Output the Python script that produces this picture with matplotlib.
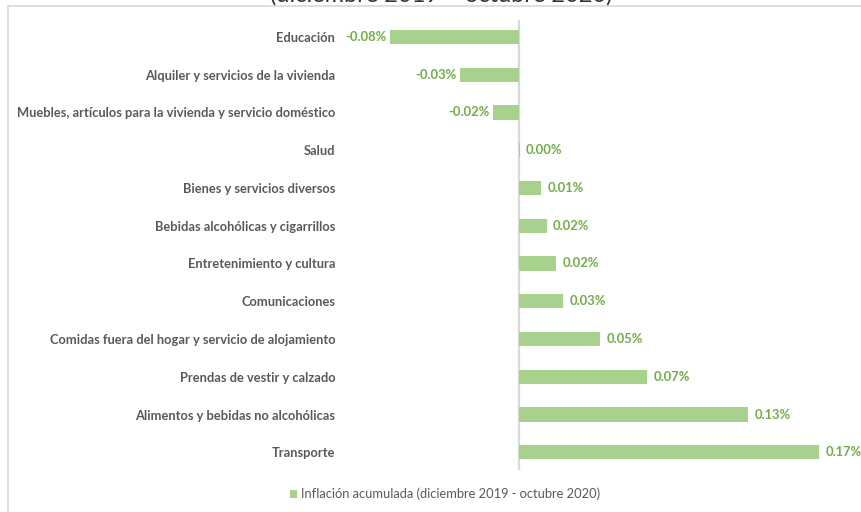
import numpy as np
import matplotlib.pyplot as plt
from matplotlib.patches import Rectangle

categorias = [
    "Educación",
    "Alquiler y servicios de la vivienda",
    "Muebles, artículos para la vivienda y servicio doméstico",
    "Salud",
    "Bienes y servicios diversos",
    "Bebidas alcohólicas y cigarrillos",
    "Entretenimiento y cultura",
    "Comunicaciones",
    "Comidas fuera del hogar y servicio de alojamiento",
    "Prendas de vestir y calzado",
    "Alimentos y bebidas no alcohólicas",
    "Transporte",
]
inflacion = [-0.073, -0.0334, -0.0147, 0.0005, 0.0125, 0.0157, 0.021, 0.0252,
             0.046, 0.0725, 0.13, 0.17]
etiquetas = ["-0.08%", "-0.03%", "-0.02%", "0.00%", "0.01%", "0.02%", "0.02%",
             "0.03%", "0.05%", "0.07%", "0.13%", "0.17%"]
serie = "Inflación acumulada (diciembre 2019 - octubre 2020)"
titulo = "(diciembre 2019 – octubre 2020)"

verde = "#A9D18E"
verde_txt = "#70AD47"
gris = "#595959"

plt.rcParams["font.family"] = ["Lato", "DejaVu Sans"]

fig = plt.figure(figsize=(8.61, 5.12), dpi=100)
ax = fig.add_axes([340 / 861, 1 - 470 / 512, 515 / 861, 450 / 512])

y = np.arange(len(categorias))
ax.barh(y, inflacion, height=0.38, color=verde, label=serie, zorder=2)
ax.axvline(0, color="#d9d9d9", lw=1.6, zorder=1)

for yi, v, t in zip(y, inflacion, etiquetas):
    if v < 0:
        ax.annotate(t, (v, yi), xytext=(-2.5, 0), textcoords="offset points",
                    ha="right", va="center", color=verde_txt,
                    fontsize=9.3, fontweight="bold")
    else:
        ax.annotate(t, (v, yi), xytext=(4.5, 0), textcoords="offset points",
                    ha="left", va="center", color=verde_txt,
                    fontsize=9.3, fontweight="bold")

ax.set_yticks(y)
ax.set_yticklabels(categorias, fontsize=9.3, fontweight="bold", color=gris)
ax.tick_params(axis="y", length=0, pad=3.5)
ax.set_xticks([])
ax.set_xlim(-0.1014, 0.1904)
ax.set_ylim(len(categorias) - 0.53, -0.45)
for s in ax.spines.values():
    s.set_visible(False)

fig.legend(loc="center", bbox_to_anchor=(445 / 861, 1 - 494 / 512), frameon=False,
           fontsize=9.3, labelcolor=gris, handlelength=0.6, handleheight=0.6,
           handletextpad=0.3)

fig.patches.append(Rectangle((8 / 861, -0.1), 1.2, 1.1 - 6 / 512,
                             transform=fig.transFigure, fill=False,
                             edgecolor="#d9d9d9", lw=1.2))
fig.text(441 / 861, 1 - 6 / 512, titulo, ha="center", va="bottom",
         fontsize=17, color="#333333")

fig.savefig("out.png", dpi=100)
